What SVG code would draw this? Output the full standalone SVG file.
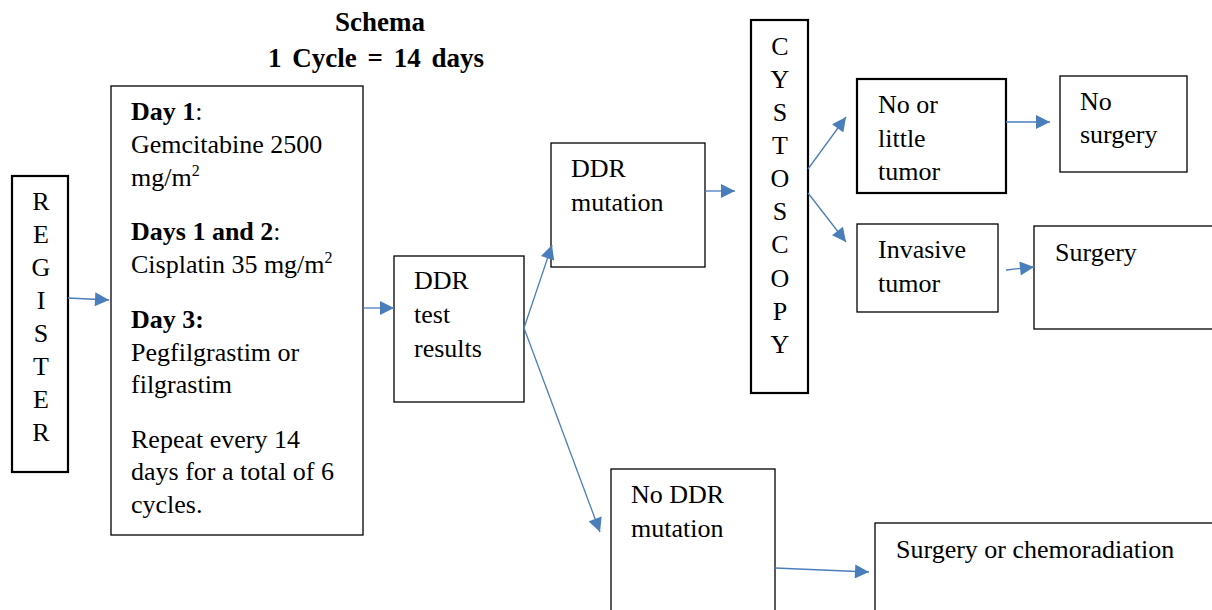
<svg xmlns="http://www.w3.org/2000/svg" width="1212" height="610" viewBox="0 0 1212 610">
<defs>
<style>
.box{fill:#fff;stroke:#000;stroke-width:1.3}
.thick{stroke-width:2.2}
.c{fill:none;stroke:#4a7ebb;stroke-width:1.3}
</style>
<marker id="ah" viewBox="0 0 10 10" refX="10" refY="5" markerWidth="15" markerHeight="14" markerUnits="userSpaceOnUse" orient="auto">
<path d="M0,0 L10,5 L0,10 Z" fill="#4a7ebb"/>
</marker>
</defs>
<rect width="1212" height="610" fill="#fff"/>
<g font-family="Liberation Serif, Times New Roman, serif" font-size="26" fill="#000">
<g id="title" font-weight="bold" font-size="27" text-anchor="middle">
<text x="380" y="31">Schema</text>
<text x="376" y="67" word-spacing="4">1 Cycle = 14 days</text>
</g>
<g id="register">
<rect class="box thick" x="12" y="176" width="56" height="296"/>
<g text-anchor="middle">
<text x="41" y="210">R</text>
<text x="41" y="243">E</text>
<text x="41" y="276">G</text>
<text x="41" y="309">I</text>
<text x="41" y="342">S</text>
<text x="41" y="375">T</text>
<text x="41" y="408">E</text>
<text x="41" y="441">R</text>
</g>
</g>
<g id="schema">
<rect class="box" x="111" y="86" width="252" height="449"/>
<text x="131" y="120"><tspan font-weight="bold">Day 1</tspan>:</text>
<text x="131" y="153">Gemcitabine 2500</text>
<text x="131" y="186">mg/m<tspan font-size="16" dy="-10">2</tspan></text>
<text x="131" y="240"><tspan font-weight="bold">Days 1 and 2</tspan>:</text>
<text x="131" y="273">Cisplatin 35 mg/m<tspan font-size="16" dy="-10">2</tspan></text>
<text x="131" y="328" font-weight="bold">Day 3:</text>
<text x="131" y="361">Pegfilgrastim or</text>
<text x="131" y="393">filgrastim</text>
<text x="131" y="448">Repeat every 14</text>
<text x="131" y="480">days for a total of 6</text>
<text x="131" y="513">cycles.</text>
</g>
<g id="ddr-test">
<rect class="box" x="394" y="256" width="130" height="146"/>
<text x="414" y="289">DDR</text>
<text x="414" y="323">test</text>
<text x="414" y="357">results</text>
</g>
<g id="ddr-mutation">
<rect class="box" x="551" y="143" width="154" height="124"/>
<text x="571" y="177">DDR</text>
<text x="571" y="211">mutation</text>
</g>
<g id="cystoscopy">
<rect class="box thick" x="751" y="20" width="57" height="373"/>
<g text-anchor="middle">
<text x="780" y="55">C</text>
<text x="780" y="88">Y</text>
<text x="780" y="121">S</text>
<text x="780" y="154">T</text>
<text x="780" y="187">O</text>
<text x="780" y="220">S</text>
<text x="780" y="253">C</text>
<text x="780" y="287">O</text>
<text x="780" y="320">P</text>
<text x="780" y="353">Y</text>
</g>
</g>
<g id="little-tumor">
<rect class="box thick" x="857" y="79" width="149" height="114"/>
<text x="878" y="113">No or</text>
<text x="878" y="147">little</text>
<text x="878" y="180">tumor</text>
</g>
<g id="no-surgery">
<rect class="box" x="1060" y="76" width="127" height="96"/>
<text x="1080" y="110">No</text>
<text x="1080" y="143">surgery</text>
</g>
<g id="invasive">
<rect class="box" x="857" y="224" width="141" height="88"/>
<text x="878" y="258">Invasive</text>
<text x="878" y="292">tumor</text>
</g>
<g id="surgery">
<rect class="box" x="1034" y="226" width="180" height="103"/>
<text x="1055" y="261">Surgery</text>
</g>
<g id="no-ddr">
<rect class="box" x="611" y="469" width="164" height="145"/>
<text x="631" y="503">No DDR</text>
<text x="631" y="537">mutation</text>
</g>
<g id="surgery-chemo">
<rect class="box" x="875" y="523" width="340" height="95"/>
<text x="896" y="558">Surgery or chemoradiation</text>
</g>
</g>
<g id="connectors">
<line class="c" x1="68" y1="298" x2="109" y2="300" marker-end="url(#ah)"/>
<line class="c" x1="363" y1="308" x2="394" y2="308" marker-end="url(#ah)"/>
<line class="c" x1="524" y1="328" x2="552" y2="245" marker-end="url(#ah)"/>
<line class="c" x1="524" y1="328" x2="600" y2="532" marker-end="url(#ah)"/>
<line class="c" x1="705" y1="191" x2="735" y2="191" marker-end="url(#ah)"/>
<line class="c" x1="808" y1="169" x2="846" y2="117" marker-end="url(#ah)"/>
<line class="c" x1="808" y1="193" x2="846" y2="242" marker-end="url(#ah)"/>
<line class="c" x1="1006" y1="122" x2="1050" y2="122" marker-end="url(#ah)"/>
<line class="c" x1="1006" y1="270" x2="1034" y2="267" marker-end="url(#ah)"/>
<line class="c" x1="775" y1="568" x2="869" y2="572" marker-end="url(#ah)"/>
</g>
</svg>
